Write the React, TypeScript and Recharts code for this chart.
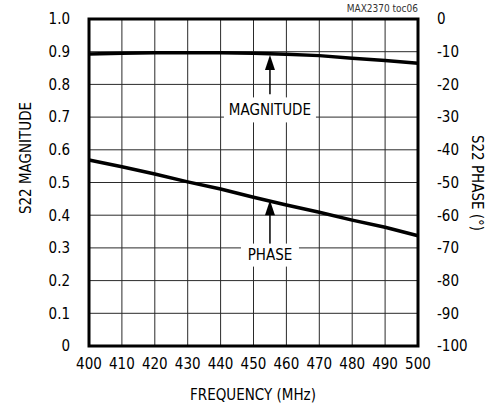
import React from "react";
import {
  LineChart,
  Line,
  XAxis,
  YAxis,
  CartesianGrid,
  ReferenceArea,
  ReferenceDot,
  ReferenceLine,
} from "recharts";

const frequency = [400, 410, 420, 430, 440, 450, 460, 470, 480, 490, 500];
const magnitude = [0.893, 0.895, 0.897, 0.897, 0.897, 0.895, 0.892, 0.888, 0.88, 0.873, 0.865];
const phase = [-43.1, -45.2, -47.4, -49.8, -52.0, -54.5, -56.9, -59.1, -61.5, -63.7, -66.3];
const magTicks = [0, 0.1, 0.2, 0.3, 0.4, 0.5, 0.6, 0.7, 0.8, 0.9, 1.0];
const magTickLabels = ["0", "0.1", "0.2", "0.3", "0.4", "0.5", "0.6", "0.7", "0.8", "0.9", "1.0"];
const phaseTicks = [-100, -90, -80, -70, -60, -50, -40, -30, -20, -10, 0];

const data = frequency.map((f, i) => ({ f, mag: magnitude[i], ph: phase[i] }));

const FONT = "'Liberation Sans Narrow','DejaVu Sans Condensed','Arial Narrow',sans-serif";
const FS = 15;
const tickStyle = { fill: "#000", fontSize: FS, fontFamily: FONT };

const boxLabel = (text: string, w: number, h: number) => (props: any) => {
  const { cx, cy } = props;
  return (
    <g>
      <rect x={cx - w / 2} y={cy - h / 2} width={w} height={h} fill="#fff" />
      <text
        x={cx}
        y={cy}
        textAnchor="middle"
        dominantBaseline="central"
        fontFamily={FONT}
        fontSize={FS}
        fill="#000"
      >
        {text}
      </text>
    </g>
  );
};

const arrowHead = (props: any) => {
  const { cx, cy } = props;
  return <path d={`M${cx},${cy} L${cx - 5},${cy + 15} L${cx + 5},${cy + 15} Z`} fill="#000" />;
};

export default function App() {
  return (
    <div style={{ position: "absolute", left: 0, top: 0, width: 503, height: 407, background: "#fff" }}>
      <LineChart
        width={503}
        height={407}
        data={data}
        margin={{ top: 19, right: 0, bottom: 0, left: 0 }}
      >
        <CartesianGrid yAxisId="left" stroke="#2a2a2a" strokeWidth={1} fill="none" />
        <XAxis
          dataKey="f"
          type="number"
          domain={[400, 500]}
          ticks={frequency}
          height={61}
          tickSize={0}
          tickMargin={12}
          axisLine={false}
          tickLine={false}
          tick={tickStyle}
          label={() => (
            <text x={253} y={395} textAnchor="middle" dominantBaseline="central" fontFamily={FONT} fontSize={FS} fill="#000">
              FREQUENCY (MHz)
            </text>
          )}
        />
        <YAxis
          yAxisId="left"
          domain={[0, 1]}
          ticks={magTicks}
          tickFormatter={(v: number) => magTickLabels[magTicks.indexOf(v)] ?? String(v)}
          width={89}
          tickSize={0}
          tickMargin={19}
          axisLine={false}
          tickLine={false}
          tick={tickStyle}
          label={() => (
            <text
              transform="translate(26,158) rotate(-90)"
              textAnchor="middle"
              dominantBaseline="central"
              fontFamily={FONT}
              fontSize={FS}
              fill="#000"
            >
              S22 MAGNITUDE
            </text>
          )}
        />
        <YAxis
          yAxisId="right"
          orientation="right"
          domain={[-100, 0]}
          ticks={phaseTicks}
          width={85}
          tickSize={0}
          tickMargin={19}
          axisLine={false}
          tickLine={false}
          tick={{ ...tickStyle, textAnchor: "start" }}
          label={() => (
            <text
              transform="translate(477,183) rotate(90)"
              textAnchor="middle"
              dominantBaseline="central"
              fontFamily={FONT}
              fontSize={FS}
              fill="#000"
            >
              S22 PHASE (°)
            </text>
          )}
        />
        <Line
          yAxisId="left"
          dataKey="mag"
          stroke="#000"
          strokeWidth={3.5}
          dot={false}
          isAnimationActive={false}
        />
        <Line
          yAxisId="right"
          dataKey="ph"
          stroke="#000"
          strokeWidth={3.5}
          dot={false}
          isAnimationActive={false}
        />
        <ReferenceLine
          yAxisId="left"
          segment={[{ x: 455, y: 0.87 }, { x: 455, y: 0.77 }]}
          stroke="#000"
          strokeWidth={1.5}
        />
        <ReferenceDot yAxisId="left" x={455} y={0.89} shape={arrowHead} />
        <ReferenceLine
          yAxisId="left"
          segment={[{ x: 455, y: 0.43 }, { x: 455, y: 0.31 }]}
          stroke="#000"
          strokeWidth={1.5}
        />
        <ReferenceDot yAxisId="left" x={455} y={0.446} shape={arrowHead} />
        <ReferenceDot yAxisId="left" x={455} y={0.722} shape={boxLabel("MAGNITUDE", 92, 25)} />
        <ReferenceDot yAxisId="left" x={455} y={0.278} shape={boxLabel("PHASE", 58, 23)} />
        <ReferenceArea
          yAxisId="left"
          x1={400}
          x2={500}
          y1={0}
          y2={1}
          fill="none"
          stroke="#000"
          strokeWidth={3}
        />
      </LineChart>
      <div
        style={{
          position: "absolute",
          right: 85,
          top: 3,
          fontFamily: FONT,
          fontSize: 10,
          color: "#333",
          lineHeight: "12px",
        }}
      >
        MAX2370 toc06
      </div>
    </div>
  );
}
